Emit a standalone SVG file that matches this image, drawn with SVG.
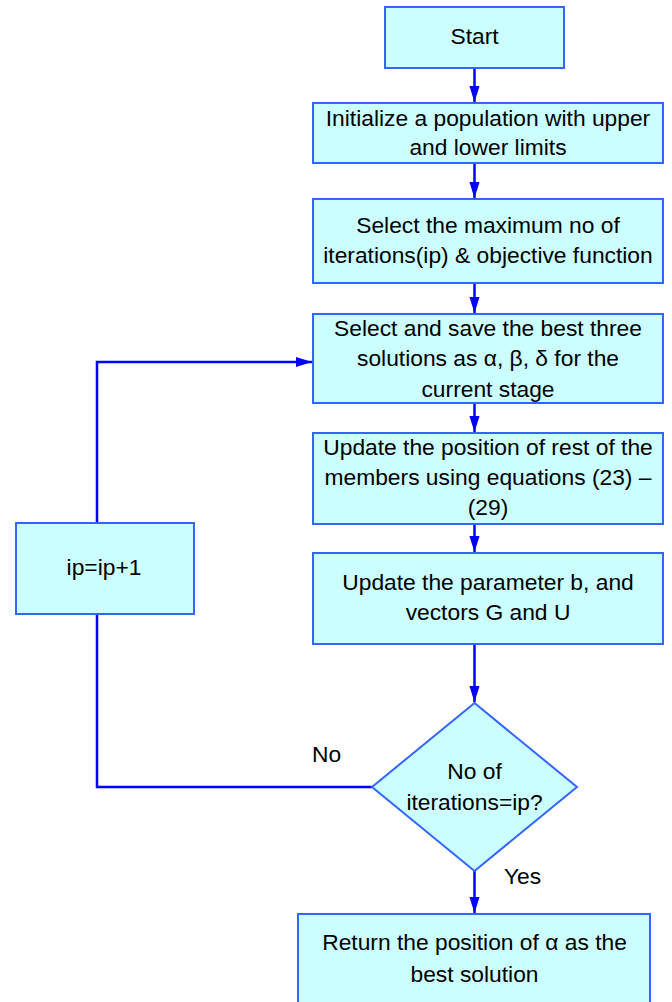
<svg xmlns="http://www.w3.org/2000/svg" width="672" height="1002" viewBox="0 0 672 1002">
<style>
.box{fill:#CCFFFF;stroke:#3366FF;stroke-width:2}
.t{font-family:"Liberation Sans",Arial,sans-serif;font-size:22.8px;fill:#000;text-anchor:middle}
.l{font-family:"Liberation Sans",Arial,sans-serif;font-size:22.8px;fill:#000}
.c{fill:none;stroke:#0000FF;stroke-width:2.5}
</style>
<defs>
<marker id="ah" markerUnits="userSpaceOnUse" markerWidth="16" markerHeight="24" refX="22" refY="7" orient="auto" viewBox="0 0 22 14">
<path d="M0,0 L22,7 L0,14 Z" fill="#0000FF"/>
</marker>
</defs>
<rect width="672" height="1002" fill="#fff"/>
<g id="connectors">
<line class="c" x1="474.5" y1="68" x2="474.5" y2="102" marker-end="url(#ah)"/>
<line class="c" x1="474.5" y1="163" x2="474.5" y2="198" marker-end="url(#ah)"/>
<line class="c" x1="474.5" y1="283" x2="474.5" y2="313" marker-end="url(#ah)"/>
<line class="c" x1="474.5" y1="403" x2="474.5" y2="432" marker-end="url(#ah)"/>
<line class="c" x1="474.5" y1="524" x2="474.5" y2="552" marker-end="url(#ah)"/>
<line class="c" x1="474.5" y1="644" x2="474.5" y2="702" marker-end="url(#ah)"/>
<line class="c" x1="474.5" y1="871" x2="474.5" y2="913" marker-end="url(#ah)"/>
<polyline class="c" points="372,787 97,787 97,614"/>
<polyline class="c" points="97,523 97,362 312,362" marker-end="url(#ah)"/>
<text class="l" x="312" y="762">No</text>
<text class="l" x="504" y="884">Yes</text>
</g>
<g id="start">
<rect class="box" x="385" y="7" width="179" height="61"/>
<text class="t" x="474.5" y="44">Start</text>
</g>
<g id="init">
<rect class="box" x="313" y="103" width="350" height="60"/>
<text class="t" x="488" y="126">Initialize a population with upper</text>
<text class="t" x="488" y="155">and lower limits</text>
</g>
<g id="select-max">
<rect class="box" x="313" y="199" width="350" height="84"/>
<text class="t" x="488" y="233">Select the maximum no of</text>
<text class="t" x="488" y="263">iterations(ip) &amp; objective function</text>
</g>
<g id="select-best">
<rect class="box" x="313" y="314" width="350" height="89"/>
<text class="t" x="488" y="336">Select and save the best three</text>
<text class="t" x="488" y="366">solutions as α, β, δ for the</text>
<text class="t" x="488" y="397">current stage</text>
</g>
<g id="update-pos">
<rect class="box" x="313" y="433" width="350" height="91"/>
<text class="t" x="488" y="455">Update the position of rest of the</text>
<text class="t" x="488" y="485">members using equations (23) –</text>
<text class="t" x="488" y="515">(29)</text>
</g>
<g id="update-param">
<rect class="box" x="313" y="553" width="350" height="91"/>
<text class="t" x="488" y="590">Update the parameter b, and</text>
<text class="t" x="488" y="620">vectors G and U</text>
</g>
<g id="decision">
<polygon class="box" points="474.5,703 577,787 474.5,871 372,787"/>
<text class="t" x="474.5" y="779">No of</text>
<text class="t" x="474.5" y="810">iterations=ip?</text>
</g>
<g id="increment">
<rect class="box" x="16" y="523" width="178" height="91"/>
<text class="t" x="104" y="575">ip=ip+1</text>
</g>
<g id="return">
<rect class="box" x="298" y="914" width="352" height="100"/>
<text class="t" x="474.5" y="950">Return the position of α as the</text>
<text class="t" x="474.5" y="982">best solution</text>
</g>
</svg>
